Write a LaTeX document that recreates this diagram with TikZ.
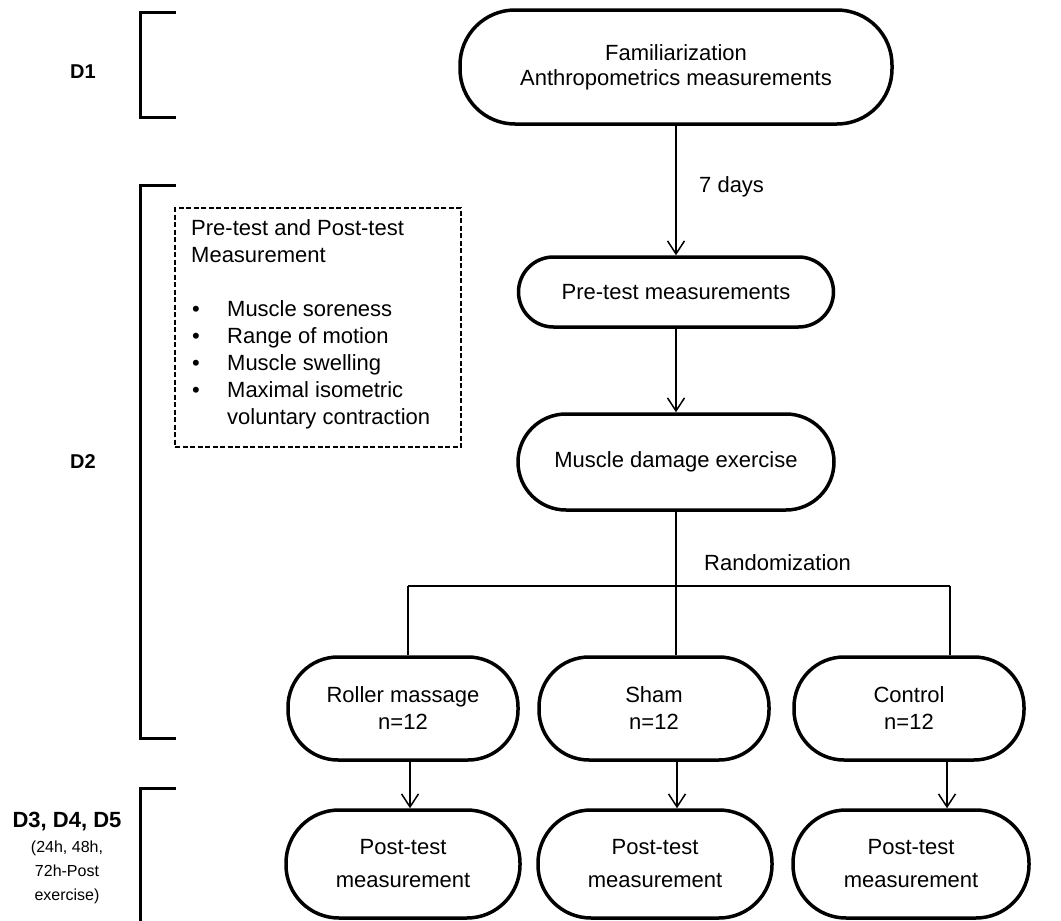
\documentclass[tikz,border=0pt]{standalone}
\usepackage{fontspec}
\setmainfont{Liberation Sans}
\usetikzlibrary{arrows.meta}
\tikzset{
  flowbox/.style={draw, line width=3.5pt, rounded corners=46pt, align=center,
    font=\fontsize{22}{27}\selectfont, inner sep=0pt},
  conn/.style={line width=1.5pt, -{Straight Barb[length=13pt,width=17pt,line width=1.5pt]}},
  tree/.style={line width=2pt},
  bracket/.style={line width=3pt},
  daylabel/.style={font=\fontsize{20}{24}\selectfont\bfseries},
  plaintext/.style={font=\fontsize{22}{27}\selectfont, inner sep=0pt},
}
\begin{document}
\begin{tikzpicture}[x=1pt, y=-1pt]
\useasboundingbox[fill=white] (0,0) rectangle (1061,921);

% brackets
\draw[bracket] (176,12) -- (140,12) -- (140,117) -- (176,117);
\draw[bracket] (176,185) -- (140,185) -- (140,738) -- (176,738);
\draw[bracket] (176,788) -- (140,788) -- (140,925);

% day labels
\node[daylabel] (d1) at (83,72) {D1};
\node[daylabel] (d2) at (83,462) {D2};
\node[font=\fontsize{22}{26}\selectfont\bfseries, inner sep=0pt] (d3) at (67,822) {D3, D4, D5};
\node[font=\fontsize{16}{24}\selectfont, align=center, inner sep=0pt] (d3sub) at (67,872) {(24h, 48h,\\72h-Post\\exercise)};

% dashed measurement box
\node[draw, dash pattern=on 5pt off 2.5pt, line width=1.5pt, minimum width=286pt, minimum height=239pt, inner sep=0pt] (measbox) at (318,327.5) {};
\node[plaintext, align=left, anchor=north west] (meastext) at (191,219) {Pre-test and Post-test\\Measurement\\[27pt]
\makebox[36pt][l]{\hspace{1pt}•}Muscle soreness\\
\makebox[36pt][l]{\hspace{1pt}•}Range of motion\\
\makebox[36pt][l]{\hspace{1pt}•}Muscle swelling\\
\makebox[36pt][l]{\hspace{1pt}•}Maximal isometric\\
\makebox[36pt][l]{}voluntary contraction};

% flow boxes
\node[flowbox, rounded corners=55pt, minimum width=432pt, minimum height=114pt, font=\fontsize{22}{25}\selectfont] (fam) at (676,67) {Familiarization\\Anthropometrics measurements};
\node[flowbox, rounded corners=35pt, minimum width=315pt, minimum height=70pt] (pre) at (676,292) {Pre-test measurements};
\node[flowbox, rounded corners=48pt, minimum width=316pt, minimum height=96pt] (mde) at (676,462) {Muscle damage exercise};

\node[flowbox, rounded corners=50pt, minimum width=230pt, minimum height=103pt] (rm) at (403,708.5) {Roller massage\\n=12};
\node[flowbox, rounded corners=50pt, minimum width=230pt, minimum height=103pt] (sh) at (654,708.5) {Sham\\n=12};
\node[flowbox, rounded corners=50pt, minimum width=230pt, minimum height=103pt] (ct) at (909,708.5) {Control\\n=12};

\node[flowbox, rounded corners=53pt, minimum width=234pt, minimum height=108pt, font=\fontsize{22}{33}\selectfont] (p1) at (403,864) {Post-test\\measurement};
\node[flowbox, rounded corners=53pt, minimum width=234pt, minimum height=108pt, font=\fontsize{22}{33}\selectfont] (p2) at (655,864) {Post-test\\measurement};
\node[flowbox, rounded corners=53pt, minimum width=236pt, minimum height=108pt, font=\fontsize{22}{33}\selectfont] (p3) at (911,864) {Post-test\\measurement};

% labels
\node[plaintext, anchor=west] (days) at (699,187) {7 days};
\node[plaintext, anchor=west] (rand) at (704,563) {Randomization};

% connector guide coordinates
\coordinate (jl) at (408,586);
\coordinate (jc) at (676,586);
\coordinate (jr) at (950,586);
\coordinate (a1) at (410,0);
\coordinate (a2) at (677,0);
\coordinate (a3) at (947,0);

% connectors
\draw[conn] (fam.south) -- (pre.north);
\draw[conn] (pre.south) -- (mde.north);
\draw[tree] (mde.south) -- (sh.north -| jc);
\draw[tree] (jl) -- (jr);
\draw[tree] (jl) -- (rm.north -| jl);
\draw[tree] (jr) -- (ct.north -| jr);
\draw[conn] (rm.south -| a1) -- (p1.north -| a1);
\draw[conn] (sh.south -| a2) -- (p2.north -| a2);
\draw[conn] (ct.south -| a3) -- (p3.north -| a3);
\end{tikzpicture}
\end{document}
